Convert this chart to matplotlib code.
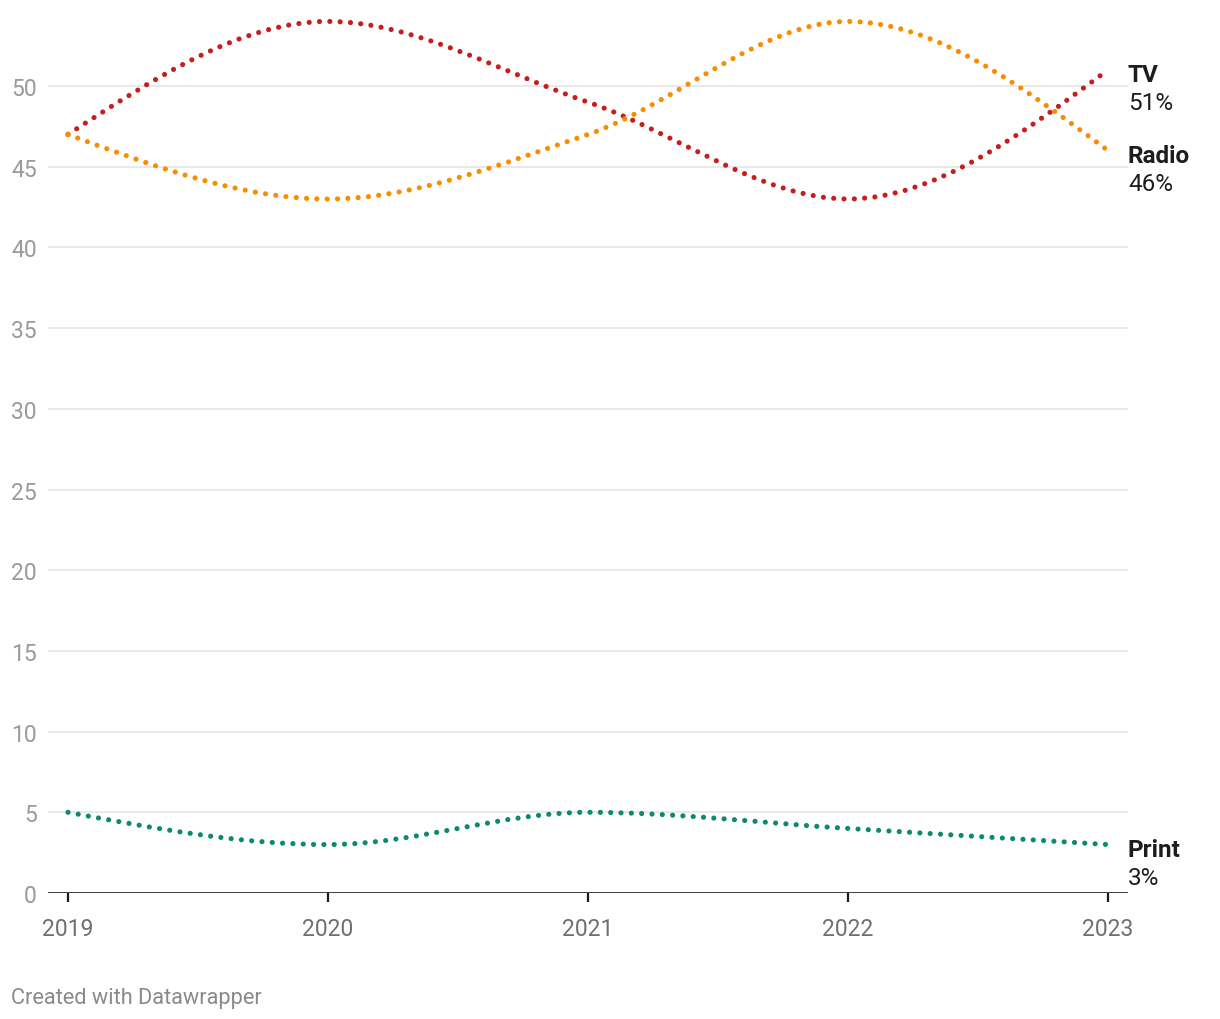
import matplotlib
matplotlib.use("Agg")
import matplotlib.pyplot as plt
from matplotlib.path import Path
from matplotlib.patches import PathPatch
import numpy as np

plt.rcParams['font.family'] = ['Roboto', 'DejaVu Sans']

years = [2019, 2020, 2021, 2022, 2023]
tv = [47, 54, 49, 43, 51]
radio = [47, 43, 47, 54, 46]
printed = [5, 3, 5, 4, 3]
series_names = ["TV", "Radio", "Print"]
series_values = [tv, radio, printed]
series_colors = ["#c71e1d", "#fa8c00", "#0a8a6e"]
y_ticks = [0, 5, 10, 15, 20, 25, 30, 35, 40, 45, 50]


def monotone_tangents(x, y):
    x = np.asarray(x, float); y = np.asarray(y, float)
    n = len(x)
    h = np.diff(x); s = np.diff(y) / h
    t = np.zeros(n)
    for i in range(1, n - 1):
        s0, s1, h0, h1 = s[i - 1], s[i], h[i - 1], h[i]
        p = (s0 * h1 + s1 * h0) / (h0 + h1)
        t[i] = (np.sign(s0) + np.sign(s1)) * min(abs(s0), abs(s1), 0.5 * abs(p)) or 0.0
    t[0] = (3 * s[0] - t[1]) / 2
    t[-1] = (3 * s[-1] - t[-2]) / 2
    return t


def monotone_path(x, y):
    t = monotone_tangents(x, y)
    verts = [(x[0], y[0])]
    codes = [Path.MOVETO]
    for i in range(len(x) - 1):
        h = x[i + 1] - x[i]
        verts += [(x[i] + h / 3, y[i] + t[i] * h / 3),
                  (x[i + 1] - h / 3, y[i + 1] - t[i + 1] * h / 3),
                  (x[i + 1], y[i + 1])]
        codes += [Path.CURVE4] * 3
    return Path(verts, codes)


fig = plt.figure(figsize=(12.2, 10.2), dpi=100)
W, H = 1220, 1020
px_per_unit = (894 - 87) / 50.0
ytop = 55
ax = fig.add_axes([48 / W, (H - 894) / H, 1080 / W, (ytop * px_per_unit) / H])
ax.set_xlim(2019 - 20 / 260, 2023 + 20 / 260)
ax.set_ylim(0, ytop)

for s in ax.spines.values():
    s.set_visible(False)

for yv in y_ticks[1:]:
    ax.axhline(yv, color="#e3e3e3", lw=1.1, zorder=1)
ax.axhline(0, color="#1a1a1a", lw=1.9, zorder=2)

ax.set_yticks(y_ticks)
ax.set_yticklabels([str(v) for v in y_ticks])
ax.tick_params(axis="y", length=0, pad=8, labelsize=16.5, labelcolor="#9a9a9a")
ax.set_xticks(years)
ax.set_xticklabels([str(v) for v in years])
ax.tick_params(axis="x", length=6.5, width=1.6, color="#1a1a1a", pad=10.5,
               labelsize=16.5, labelcolor="#6f6f6f")

for name, vals, col in zip(series_names, series_values, series_colors):
    path = monotone_path(years, vals)
    patch = PathPatch(path, fill=False, edgecolor=col, lw=3.7,
                      linestyle=(0, (0.01, 2.0)), capstyle="round",
                      zorder=3, clip_on=False)
    ax.add_patch(patch)
    ax.annotate(name, xy=(years[-1], vals[-1]), xytext=(14.4, -3.6),
                textcoords="offset points", xycoords="data",
                ha="left", va="center", fontsize=17.5, fontweight="bold",
                color="#1d1d1d", annotation_clip=False)
    ax.annotate(f"{vals[-1]}%", xy=(years[-1], vals[-1]), xytext=(14.4, -23.4),
                textcoords="offset points", xycoords="data",
                ha="left", va="center", fontsize=17.5,
                color="#1d1d1d", annotation_clip=False)

fig.text(11 / W, 1 - 999 / H, "Created with Datawrapper", ha="left", va="center",
         fontsize=15.7, color="#8a8a8a")

fig.savefig("out.png", dpi=100)
